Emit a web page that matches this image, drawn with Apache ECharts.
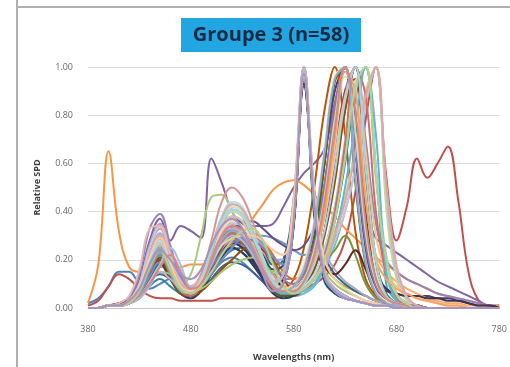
<!DOCTYPE html>
<html><head><meta charset="utf-8">
<script src="https://cdn.jsdelivr.net/npm/echarts@6/dist/echarts.min.js"></script>
<style>html,body{margin:0;padding:0;background:#fff}#c{width:510px;height:367px}</style>
</head><body><div id="c"></div>
<script>
const titleText = "Groupe 3 (n=58)";
const xTitle = "Wavelengths (nm)";
const yTitle = "Relative SPD";
const wavelengths = [380,390,400,410,420,430,440,450,460,470,480,490,500,510,520,530,540,550,560,570,580,590,600,610,620,630,640,650,660,670,680,690,700,710,720,730,740,750,760,770,780];
// relative SPD in percent (0-100), one array per spectrum
const s01=[2,4,9,15,15,10,8,10,12,9,6,8,14,19,21,19,15,11,8,7,8,12,22,45,80,100,65,28,10,4,2,1,1,0,0,0,0,0,0,0,0];
const s02=[1,3,9,14,12,8,5,4,4,3,3,3,3,4,4,4,4,4,4,5,6,8,10,13,18,28,48,78,100,55,28,42,62,54,60,67,45,15,3,1,0];
const s03=[0,0,1,1,2,6,14,20,16,9,6,8,14,21,26,28,26,20,14,16,42,100,44,18,12,9,7,5,3,2,1,1,0,0,0,0,0,0,0,0,0];
const s04=[0,0,1,2,4,12,28,37,28,34,32,29,62,52,40,35,34,34,35,42,50,56,60,66,85,100,72,42,29,26,23,20,17,14,11,9,7,5,3,1,1];
const s05=[0,0,1,1,2,6,16,24,15,7,6,10,22,34,40,38,30,20,12,8,7,9,14,24,42,64,86,100,58,10,3,1,1,0,0,0,0,0,0,0,0];
const s06=[2,18,65,32,17,15,16,17,17,17,18,18,19,21,25,30,37,43,49,52,53,51,47,42,38,33,29,25,21,18,15,12,10,8,6,5,4,3,2,1,1];
const s07=[0,0,1,1,2,5,14,22,14,6,5,8,16,24,28,26,20,13,7,5,6,10,22,45,78,100,68,28,10,4,2,1,1,0,0,0,0,0,0,0,0];
const s08=[0,0,1,2,4,9,22,30,20,9,6,9,18,28,33,31,24,15,8,12,35,96,45,14,8,5,3,2,1,1,1,0,0,0,0,0,0,0,0,0,0];
const s09=[0,0,1,1,2,5,12,18,12,6,5,9,18,27,32,30,24,16,9,6,6,9,16,32,55,82,100,62,20,6,2,1,1,0,0,0,0,0,0,0,0];
const s10=[0,0,1,1,2,6,15,22,15,8,6,9,16,22,25,23,19,14,10,8,9,15,30,60,90,100,60,22,10,7,6,5,5,5,4,4,3,2,1,1,0];
const s11=[0,0,1,1,2,5,12,18,17,11,7,9,17,27,34,36,32,25,18,20,45,92,48,22,14,10,7,5,3,2,1,1,0,0,0,0,0,0,0,0,0];
const s12=[0,0,1,1,2,6,15,24,16,8,6,9,17,25,29,27,22,15,9,8,12,25,50,82,100,72,32,12,5,2,1,1,0,0,0,0,0,0,0,0,0];
const s13=[0,0,1,1,3,9,22,30,20,10,8,12,22,30,33,32,30,30,29,27,24,22,25,40,75,100,70,30,10,4,2,1,1,0,0,0,0,0,0,0,0];
const s14=[0,0,1,1,3,9,24,30,19,9,7,12,24,33,34,29,21,13,8,12,40,100,40,12,6,4,3,2,1,1,0,0,0,0,0,0,0,0,0,0,0];
const s15=[0,0,1,1,2,6,14,20,14,10,14,30,46,47,40,31,22,14,8,6,6,10,20,45,80,100,65,25,8,3,1,1,0,0,0,0,0,0,0,0,0];
const s16=[0,0,1,1,4,14,33,39,26,13,9,11,18,24,27,26,22,18,14,12,12,15,22,38,65,90,100,70,35,20,15,12,10,8,6,5,4,3,2,1,0];
const s17=[0,0,1,1,2,5,13,20,13,7,6,10,21,32,38,36,28,18,10,6,5,6,9,16,26,40,58,84,100,46,14,4,1,0,0,0,0,0,0,0,0];
const s18=[0,0,1,1,2,7,18,25,16,8,7,11,20,28,31,30,25,18,12,9,10,15,26,45,75,100,80,42,22,15,11,8,6,4,3,2,2,1,1,0,0];
const s19=[0,0,1,1,2,5,11,14,12,8,5,7,12,17,19,18,15,11,7,10,34,98,42,14,8,5,3,2,1,1,0,0,0,0,0,0,0,0,0,0,0];
const s20=[0,0,1,1,2,5,13,20,13,6,5,8,17,26,31,29,22,14,7,5,5,8,16,32,60,90,95,45,14,4,2,1,0,0,0,0,0,0,0,0,0];
const s21=[0,0,1,1,2,7,19,27,17,8,6,10,19,28,32,30,23,14,8,11,35,94,46,20,24,30,22,10,4,2,1,0,0,0,0,0,0,0,0,0,0];
const s22=[0,0,1,1,3,8,20,28,18,10,8,12,22,30,34,35,36,33,29,26,24,26,34,60,95,100,55,20,7,3,1,1,0,0,0,0,0,0,0,0,0];
const s23=[0,0,1,1,2,4,9,12,9,6,5,8,14,20,24,25,22,16,9,6,6,8,12,20,36,60,88,100,55,20,6,2,0,0,0,0,0,0,0,0,0];
const s24=[0,0,1,1,2,6,16,23,15,7,6,9,14,20,26,30,31,28,22,15,12,14,28,52,82,100,70,30,10,4,2,1,1,0,0,0,0,0,0,0,0];
const s25=[0,0,1,1,3,9,22,31,21,10,7,11,21,31,36,34,27,17,10,14,42,100,42,13,7,5,3,2,1,1,0,0,0,0,0,0,0,0,0,0,0];
const s26=[0,0,1,1,3,10,25,33,22,12,9,14,28,44,50,46,36,24,14,9,8,10,18,40,75,100,68,28,9,3,1,1,0,0,0,0,0,0,0,0,0];
const s27=[0,0,1,1,2,6,15,22,14,7,6,11,22,33,38,36,28,17,9,6,6,8,12,20,32,46,66,90,100,42,12,3,0,0,0,0,0,0,0,0,0];
const s28=[0,0,1,1,3,10,26,35,24,11,7,10,17,24,29,31,30,26,20,20,44,97,50,24,16,11,8,5,3,2,1,1,0,0,0,0,0,0,0,0,0];
const s29=[0,0,1,1,3,8,19,27,18,9,7,12,24,36,42,40,31,20,11,7,7,9,14,24,40,64,90,100,58,22,6,2,0,0,0,0,0,0,0,0,0];
const s30=[0,0,1,1,3,8,20,28,18,9,7,11,21,30,34,32,26,18,11,8,9,13,22,38,62,88,100,65,30,15,9,6,4,3,2,1,1,0,0,0,0];
const s31=[0,0,1,1,2,5,13,19,12,6,4,7,14,21,25,23,18,12,6,4,5,9,20,40,72,100,64,24,8,3,1,1,0,0,0,0,0,0,0,0,0];
const s32=[0,0,1,1,3,7,18,25,17,8,6,9,17,26,30,29,23,15,9,12,34,93,48,18,14,18,24,16,6,2,1,0,0,0,0,0,0,0,0,0,0];
const s33=[0,0,1,1,2,6,15,21,13,6,5,8,16,25,30,28,21,13,7,5,6,12,28,60,94,100,52,18,6,2,1,0,0,0,0,0,0,0,0,0,0];
const s34=[0,0,1,1,2,6,14,20,13,7,5,8,15,23,27,25,20,13,8,6,7,12,24,45,76,100,78,40,15,8,6,5,5,4,4,3,3,2,1,1,0];
const s35=[0,0,1,1,2,6,16,24,18,10,8,13,24,32,35,33,28,22,16,18,40,100,38,11,6,4,3,2,1,1,0,0,0,0,0,0,0,0,0,0,0];
const s36=[0,0,1,1,2,6,14,20,13,6,5,7,11,16,20,24,26,24,20,12,8,9,16,30,52,82,100,55,18,5,2,1,0,0,0,0,0,0,0,0,0];
const s37=[0,0,1,1,3,10,25,34,22,11,8,12,22,32,36,34,27,17,10,14,42,100,44,13,7,4,3,2,1,1,0,0,0,0,0,0,0,0,0,0,0];
const s38=[0,0,1,2,5,16,33,34,22,12,9,13,23,33,38,36,28,18,10,14,45,100,48,14,7,4,3,2,1,1,0,0,0,0,0,0,0,0,0,0,0];
const s39=[0,0,1,1,3,8,20,28,18,9,7,12,24,36,42,40,32,21,12,8,8,11,20,40,68,96,92,48,15,5,2,1,0,0,0,0,0,0,0,0,0];
const s40=[0,0,1,1,2,5,11,18,22,16,9,11,20,30,35,34,28,18,10,7,7,8,12,18,28,40,58,85,100,50,16,4,1,0,0,0,0,0,0,0,0];
const s41=[0,0,1,1,3,8,20,28,18,9,7,12,25,38,44,42,33,21,11,7,7,9,14,24,42,70,94,100,56,18,5,1,0,0,0,0,0,0,0,0,0];
const s42=[0,0,1,1,3,9,22,30,20,10,8,12,22,32,36,34,28,19,11,8,10,18,36,66,96,100,56,20,7,3,1,1,0,0,0,0,0,0,0,0,0];
const s43=[0,0,1,1,2,6,13,19,19,13,8,9,14,20,25,29,30,27,21,18,38,95,44,13,7,4,3,2,1,1,0,0,0,0,0,0,0,0,0,0,0];
const s44=[0,0,1,1,2,6,15,22,14,7,5,9,18,27,31,29,23,15,8,6,6,8,12,22,40,68,100,88,40,14,4,1,0,0,0,0,0,0,0,0,0];
const s45=[0,0,1,1,2,5,10,15,14,10,7,8,11,15,18,20,21,19,15,15,36,98,42,16,10,7,5,3,2,1,1,0,0,0,0,0,0,0,0,0,0];
const s46=[0,0,1,1,3,8,21,29,19,9,7,10,17,23,27,29,28,25,19,12,10,14,26,50,84,100,66,27,9,4,2,1,1,0,0,0,0,0,0,0,0];
const s47=[0,0,1,1,2,6,16,23,15,7,6,11,23,35,40,38,29,18,9,6,6,7,10,18,30,50,76,100,72,15,3,1,0,0,0,0,0,0,0,0,0];
const s48=[0,0,1,1,3,8,19,26,17,8,7,11,21,30,34,32,26,18,11,8,8,11,20,40,70,98,90,45,20,12,8,6,4,3,2,1,1,0,0,0,0];
const s49=[0,0,1,1,2,4,9,18,25,18,9,10,18,26,30,28,22,15,10,14,40,99,45,14,7,4,3,2,1,1,0,0,0,0,0,0,0,0,0,0,0];
const s50=[0,0,1,1,3,9,22,30,20,10,8,13,25,37,43,41,32,20,11,7,7,8,12,18,30,44,64,88,100,52,18,5,1,0,0,0,0,0,0,0,0];
const s51=[0,0,1,1,3,8,20,27,18,9,7,12,24,35,40,38,30,20,11,8,8,12,24,46,78,100,74,32,11,4,2,1,0,0,0,0,0,0,0,0,0];
const s52=[0,0,1,1,2,5,10,15,12,8,6,10,20,30,33,31,25,17,11,14,41,100,47,15,8,5,3,2,1,1,0,0,0,0,0,0,0,0,0,0,0];
const s53=[0,0,1,1,3,8,19,27,18,9,7,12,24,36,41,39,31,20,11,7,7,10,18,32,56,86,100,58,20,5,2,1,0,0,0,0,0,0,0,0,0];
const s54=[0,0,1,1,3,9,21,29,19,9,7,11,19,26,29,30,30,28,24,22,44,96,48,20,12,8,5,3,2,1,1,0,0,0,0,0,0,0,0,0,0];
const s55=[0,0,1,1,2,7,18,25,16,8,6,10,19,28,32,30,24,16,9,7,9,16,34,64,95,100,54,19,6,2,1,0,0,0,0,0,0,0,0,0,0];
const s56=[0,0,1,1,2,5,10,17,22,15,8,10,20,30,34,32,25,16,9,7,7,11,22,44,74,100,82,36,12,4,2,1,0,0,0,0,0,0,0,0,0];
const s57=[0,0,1,1,2,7,17,24,16,8,6,9,15,22,28,32,33,28,18,9,6,8,12,20,36,62,92,100,54,20,6,2,0,0,0,0,0,0,0,0,0];
const s58=[0,0,1,1,3,8,18,24,20,14,12,16,26,34,37,33,24,14,7,10,36,97,44,13,7,4,3,2,1,1,0,0,0,0,0,0,0,0,0,0,0];
const spectra=[s01,s02,s03,s04,s05,s06,s07,s08,s09,s10,s11,s12,s13,s14,s15,s16,s17,s18,s19,s20,s21,s22,s23,s24,s25,s26,s27,s28,s29,s30,s31,s32,s33,s34,s35,s36,s37,s38,s39,s40,s41,s42,s43,s44,s45,s46,s47,s48,s49,s50,s51,s52,s53,s54,s55,s56,s57,s58];
const colors=["#4F81BD","#C0504D","#9BBB59","#8064A2","#4BACC6","#F79646",
"#2C4D75","#772C2A","#5F7530","#4D3B62","#276A7C","#B65708",
"#729ACA","#CD7371","#AFC97A","#9983B5","#6FBDD1","#F9AB6B",
"#3C6595","#9A3E3B","#7A963F","#64507F","#35889F","#D9711B",
"#95B3D7","#D99694","#C3D69B","#B3A2C7","#93CDDD","#FAC090",
"#254061","#632523","#4F6228","#3F3151","#215968","#984807",
"#B9CDE5","#E6B9B8","#D7E4BD","#CCC1DA","#B7DEE8","#FCD5B5",
"#6A8FC7","#C96F6C","#A8C46E","#8D75AE","#63B6CE","#F8A261",
"#A7C0DE","#DFA7A5","#CDDDAC","#BFB1CF","#A5D5E2","#FBCAA3",
"#8FA9CF","#D48886","#BACF8A","#A693C0"];

const chart = echarts.init(document.getElementById('c'), null, {renderer:'canvas'});
const font = "'Open Sans', 'DejaVu Sans', sans-serif";
chart.setOption({
  animation:false,
  backgroundColor:'#ffffff',
  grid:{left:88,right:10,top:67,bottom:54},
  graphic:[
    {type:'line',shape:{x1:17,y1:0,x2:17,y2:367},style:{stroke:'#b0b0b0',lineWidth:2},silent:true},
    {type:'line',shape:{x1:17,y1:7,x2:510,y2:7},style:{stroke:'#b0b0b0',lineWidth:2},silent:true},
    {type:'rect',shape:{x:181,y:18,width:180,height:34},style:{fill:'#22A6E2'},silent:true},
    {type:'text',x:271,y:35,style:{text:titleText,fill:'#1b2a44',font:"bold 20px "+font,textAlign:'center',textVerticalAlign:'middle'},silent:true}
  ],
  xAxis:{type:'category',data:wavelengths,boundaryGap:false,
    name:xTitle,nameLocation:'middle',nameGap:45,
    nameTextStyle:{fontFamily:font,fontWeight:'bold',fontSize:9,color:'#404040'},
    axisLine:{lineStyle:{color:'#c8c8c8',width:1}},
    axisTick:{show:false},
    axisLabel:{interval:9,margin:17,fontFamily:font,fontSize:9,color:'#6a6a6a'},
    splitLine:{show:false}},
  yAxis:{type:'value',min:0,max:100,interval:20,
    name:yTitle,nameLocation:'middle',nameGap:46,nameRotate:90,
    nameTextStyle:{fontFamily:font,fontWeight:'bold',fontSize:9,color:'#404040'},
    axisLine:{show:false},axisTick:{show:false},
    axisLabel:{margin:15,fontFamily:font,fontSize:9,color:'#6a6a6a',formatter:v=>(v/100).toFixed(2)},
    splitLine:{lineStyle:{color:'#dcdcdc',width:1}}},
  series:spectra.map((d,i)=>({type:'line',name:'S'+(i+1),data:d,smooth:0.4,symbol:'none',
    lineStyle:{width:2,color:colors[i]},itemStyle:{color:colors[i]}}))
});
</script></body></html>
